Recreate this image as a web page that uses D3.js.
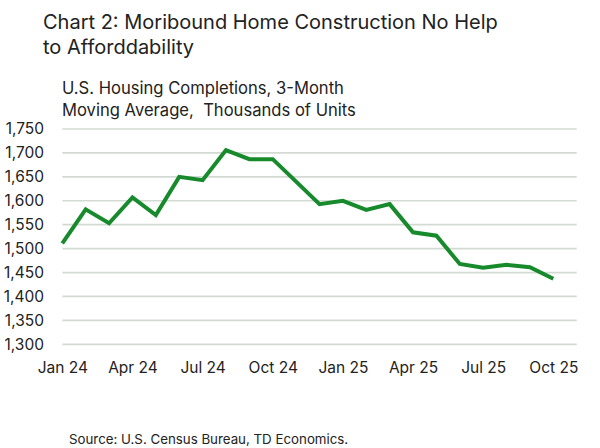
<!DOCTYPE html>
<html lang="en">
<head>
<meta charset="UTF-8">
<title>Chart 2</title>
<style>
  body { margin: 0; background: #fff; }
  text { font-family: "Inter", "Roboto", sans-serif; fill: #222; }
</style>
</head>
<body>
<script src="https://d3js.org/d3.v7.min.js"></script>
<script>
// data
let months = ['Jan 24','Feb 24','Mar 24','Apr 24','May 24','Jun 24','Jul 24','Aug 24','Sep 24','Oct 24','Nov 24','Dec 24',
              'Jan 25','Feb 25','Mar 25','Apr 25','May 25','Jun 25','Jul 25','Aug 25','Sep 25','Oct 25'];
let completions = [1511,1582,1553,1607,1570,1650,1643,1706,1687,1687,1640,1593,
                   1600,1581,1593,1534,1527,1468,1460,1466,1461,1437];
let yTicks = [1300,1350,1400,1450,1500,1550,1600,1650,1700,1750];
let xTickLabels = ['Jan 24','Apr 24','Jul 24','Oct 24','Jan 25','Apr 25','Jul 25','Oct 25'];

let width = 600, height = 448;

let svg = d3.select('body').append('svg')
    .attr('width', width)
    .attr('height', height);

// x runs one extra month past the last point, like the gridlines
let x = d3.scaleLinear().domain([0, months.length]).range([62.3, 576.7]);
let y = d3.scaleLinear().domain([1300, 1750]).range([344.3, 129]);

// titles
let title = svg.append('text').attr('x', 43).attr('font-size', 20);
title.append('tspan').attr('x', 43).attr('y', 28.5).text('Chart 2: Moribound Home Construction No Help');
title.append('tspan').attr('x', 43).attr('y', 53.5).text('to Afforddability');

let sub = svg.append('text').attr('font-size', 16.6);
sub.append('tspan').attr('x', 62).attr('y', 93.5).text('U.S. Housing Completions, 3-Month');
sub.append('tspan').attr('x', 62).attr('y', 115.5).attr('xml:space', 'preserve').text('Moving Average,  Thousands of Units');

// gridlines
svg.append('g')
    .selectAll('line')
    .data(yTicks)
    .enter().append('line')
    .attr('x1', x(0))
    .attr('x2', x(months.length))
    .attr('y1', d => y(d))
    .attr('y2', d => y(d))
    .attr('stroke', '#d3dad3')
    .attr('stroke-width', 1.7);

// y axis
let yAxis = d3.axisLeft(y).tickValues(yTicks).tickSize(0).tickPadding(0).tickFormat(d3.format(','));
svg.append('g')
    .attr('transform', 'translate(44,0)')
    .call(yAxis)
    .call(g => g.select('.domain').remove())
    .selectAll('text')
    .attr('font-family', 'Inter, Roboto, sans-serif')
    .attr('font-size', 15.5)
    .attr('fill', '#222');

// x axis
let xAxis = d3.axisBottom(x)
    .tickValues(xTickLabels.map(l => months.indexOf(l)))
    .tickFormat(i => months[i])
    .tickSize(0).tickPadding(0);
svg.append('g')
    .attr('transform', 'translate(0,362)')
    .call(xAxis)
    .call(g => g.select('.domain').remove())
    .selectAll('text')
    .attr('font-family', 'Inter, Roboto, sans-serif')
    .attr('font-size', 15.5)
    .attr('fill', '#222');

// line
let line = d3.line()
    .x((d, i) => x(i))
    .y(d => y(d));

svg.append('path')
    .datum(completions)
    .attr('d', line)
    .attr('fill', 'none')
    .attr('stroke', '#178a2c')
    .attr('stroke-width', 4)
    .attr('stroke-linejoin', 'miter');

// source
svg.append('text')
    .attr('x', 69)
    .attr('y', 444)
    .attr('font-size', 13.3)
    .attr('fill', '#333')
    .text('Source: U.S. Census Bureau, TD Economics.');
</script>
</body>
</html>
